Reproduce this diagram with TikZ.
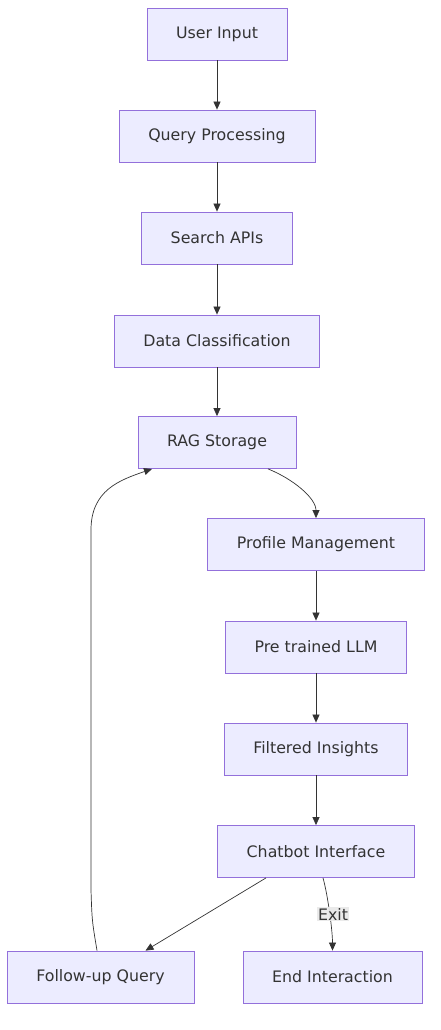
\documentclass[tikz,border=0pt]{standalone}
\usepackage{fontspec}
\setmainfont{DejaVu Sans}
\usetikzlibrary{arrows.meta}
\definecolor{boxfill}{HTML}{ECECFF}
\definecolor{boxline}{HTML}{9370DB}
\definecolor{edge}{HTML}{333333}
\definecolor{lblbg}{HTML}{E8E8E8}
\begin{document}
\begin{tikzpicture}[x=1pt,y=-1pt,
  box/.style={draw=boxline,fill=boxfill,line width=0.8pt,minimum height=52pt,inner sep=0pt,
    font=\fontsize{15.8}{19}\selectfont,text=edge},
  arr/.style={draw=edge,line width=0.7pt,-{Triangle[length=8pt,width=7pt]}},
  lbl/.style={fill=lblbg,fill opacity=0.9,text opacity=1,inner sep=1pt,font=\fontsize{15.8}{19}\selectfont,text=edge}]
\useasboundingbox (0,0) rectangle (440,1030);
\node[box,minimum width=140pt] (ui) at (217,34) {User Input};
\node[box,minimum width=196pt] (qp) at (217,136) {Query Processing};
\node[box,minimum width=151pt] (sa) at (217,238) {Search APIs};
\node[box,minimum width=205pt] (dc) at (217,341) {Data Classification};
\node[box,minimum width=158pt] (rag) at (217,442.5) {RAG Storage};
\node[box,minimum width=217pt] (pm) at (316,544.5) {Profile Management};
\node[box,minimum width=181pt] (llm) at (316,647) {Pre trained LLM};
\node[box,minimum width=183pt] (fi) at (316,749) {Filtered Insights};
\node[box,minimum width=197pt] (cb) at (316,851.5) {Chatbot Interface};
\node[box,minimum width=187pt] (fu) at (100.5,977) {Follow-up Query};
\node[box,minimum width=179pt] (ei) at (332.5,977) {End Interaction};
\draw[arr] (ui) -- (qp);
\draw[arr] (qp) -- (sa);
\draw[arr] (sa) -- (dc);
\draw[arr] (dc) -- (rag);
\draw[arr] ([xshift=51pt]rag.south) .. controls +(25,10) and +(0,-20) .. (pm.north);
\draw[arr] (pm) -- (llm);
\draw[arr] (llm) -- (fi);
\draw[arr] (fi) -- (cb);
\draw[arr] ([xshift=-50pt]cb.south) -- ([xshift=45pt]fu.north);
\draw[arr] ([xshift=7pt]cb.south) .. controls +(5,18) and +(0,-20) .. (ei.north);
\node[lbl] (ex) at (333,914) {Exit};
\draw[arr] ([xshift=-3.5pt]fu.north) .. controls +(-5,-30) .. (91,890) -- (91,530) .. controls (91,490) and (120,480) .. ([xshift=-65pt]rag.south);
\end{tikzpicture}
\end{document}
